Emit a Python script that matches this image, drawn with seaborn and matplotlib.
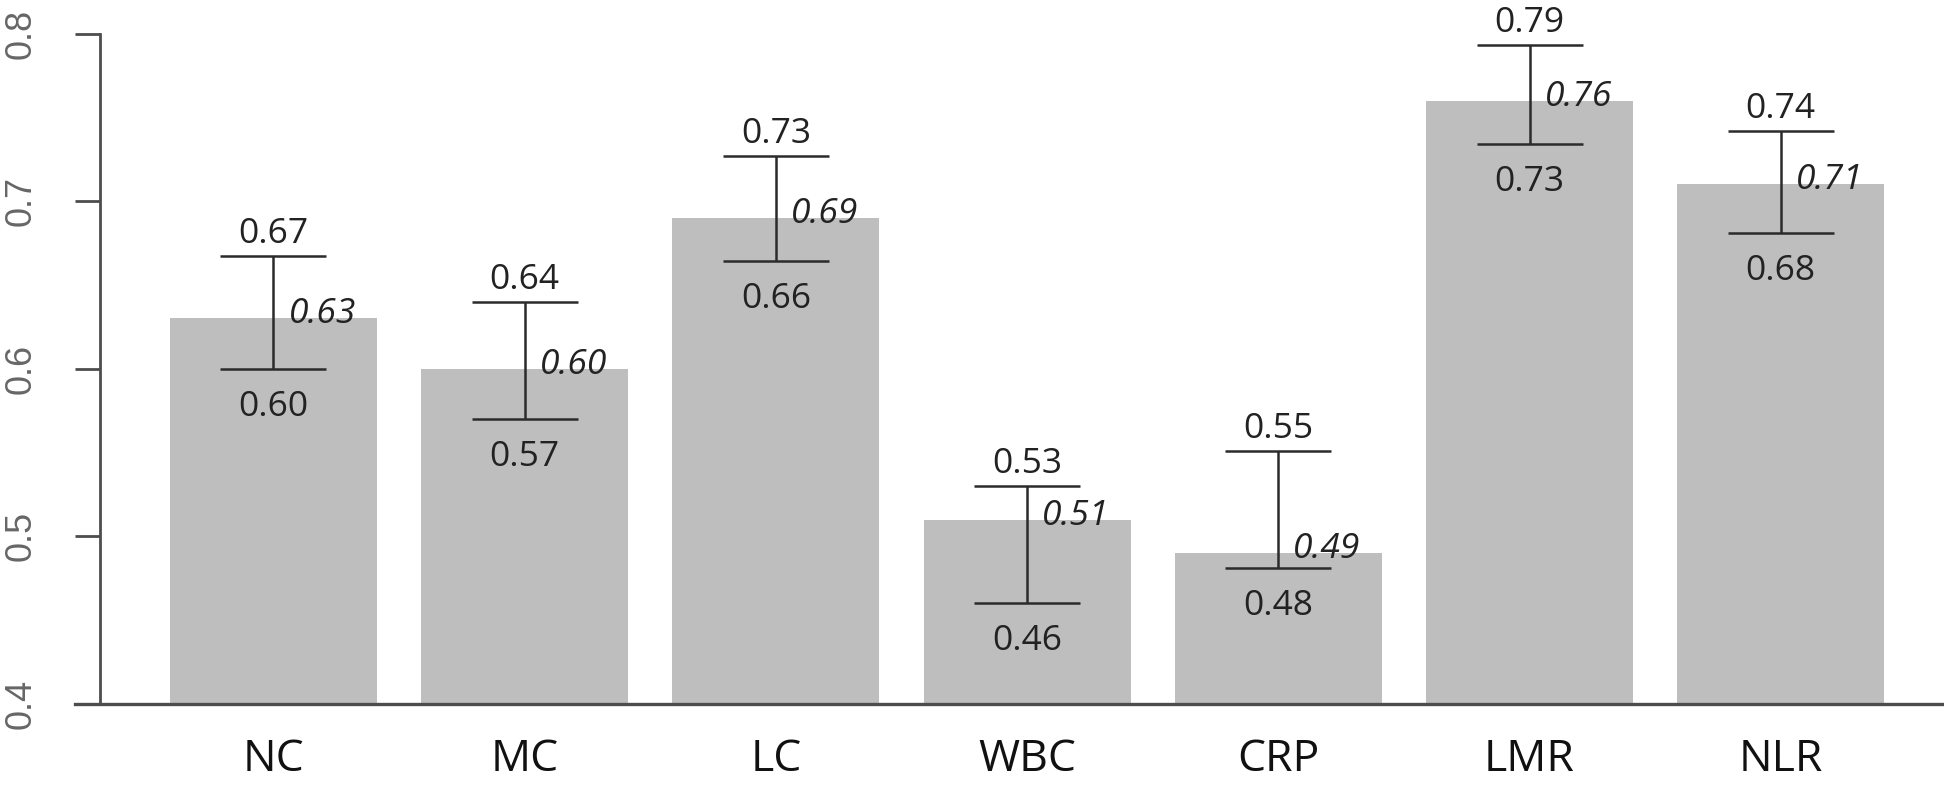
import matplotlib
matplotlib.use("Agg")
import matplotlib.pyplot as plt
import seaborn as sns
import pandas as pd

# Data
markers = ['NC', 'MC', 'LC', 'WBC', 'CRP', 'LMR', 'NLR']
auc_mean = [0.63, 0.60, 0.69, 0.51, 0.49, 0.76, 0.71]
ci_low = [0.60, 0.57, 0.664, 0.46, 0.481, 0.734, 0.681]
ci_high = [0.667, 0.64, 0.727, 0.53, 0.551, 0.793, 0.742]

df = pd.DataFrame({'Marker': markers, 'AUC': auc_mean, 'Low': ci_low, 'High': ci_high})

sns.set_style('white')
plt.rcParams['font.family'] = ['Open Sans', 'DejaVu Sans']

fig = plt.figure(figsize=(19.44, 7.85), dpi=100)
ax = fig.add_axes([75 / 1944, 81 / 785, 1 - 75 / 1944, 704 / 785])

sns.barplot(data=df, x='Marker', y='AUC', color='#bebebe', saturation=1,
            width=0.824, linewidth=0, ax=ax)

# confidence interval bars
yerr = [df['AUC'] - df['Low'], df['High'] - df['AUC']]
ax.errorbar(range(len(df)), df['AUC'], yerr=yerr, fmt='none', ecolor='#2b2b2b',
            elinewidth=1.8, capsize=38.5, capthick=1.8)

# labels
for i, row in df.iterrows():
    ax.annotate(f"{row['High']:.2f}", (i, row['High']), xytext=(0, 9.4),
                textcoords='offset points', ha='center', va='baseline',
                fontsize=25.5, color='#222222')
    ax.annotate(f"{row['Low']:.2f}", (i, row['Low']), xytext=(0, -15),
                textcoords='offset points', ha='center', va='top',
                fontsize=25.5, color='#222222')
    ax.annotate(f"{row['AUC']:.2f}", (i, row['AUC']), xytext=(10.8, -3.6),
                textcoords='offset points', ha='left', va='baseline',
                fontsize=25.5, style='italic', color='#222222')

ax.set_xlim(-0.790, 6.650)
ax.set_ylim(0.4, 0.82)
ax.set_xlabel('')
ax.set_ylabel('')

for side in ['top', 'right']:
    ax.spines[side].set_visible(False)
ax.spines['left'].set_position(('data', -0.692))
ax.spines['left'].set_bounds(0.4, 0.8)
ax.spines['left'].set_color('#4d4d4d')
ax.spines['left'].set_linewidth(2.0)
ax.spines['bottom'].set_color('#4d4d4d')
ax.spines['bottom'].set_linewidth(2.4)

ax.tick_params(axis='y', direction='out', length=18, width=2.0, color='#4d4d4d',
               pad=26, left=True)
ax.tick_params(axis='x', length=0, pad=24, labelsize=32, labelcolor='#111111')

ax.set_yticks([0.4, 0.5, 0.6, 0.7, 0.8])
ax.set_yticklabels(['0.4', '0.5', '0.6', '0.7', '0.8'], rotation=90, va='center',
                   fontfamily='Liberation Sans', fontsize=26, color='#666666')

fig.savefig('out.png', dpi=100)
